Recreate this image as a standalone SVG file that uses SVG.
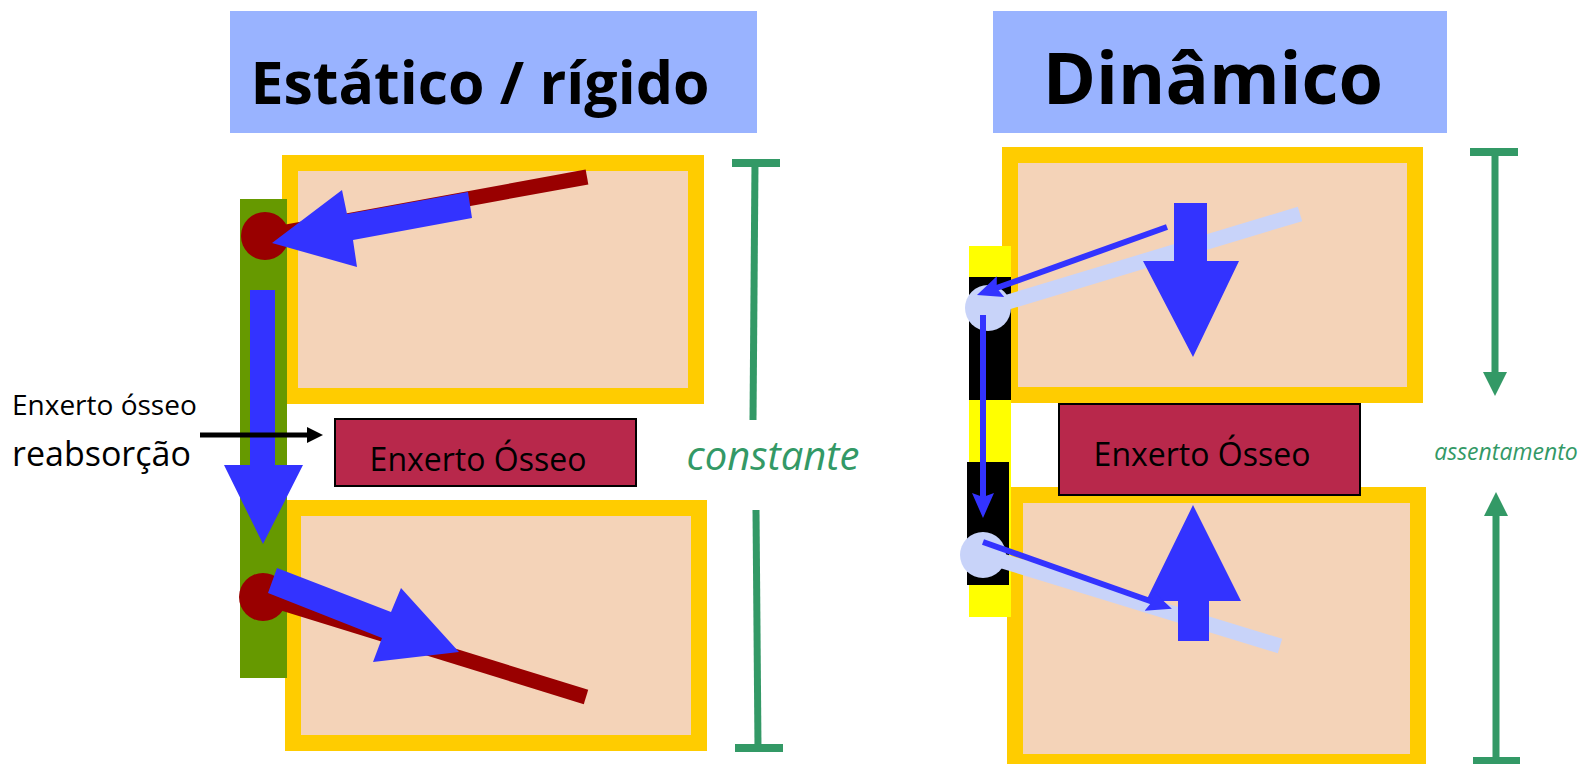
<svg xmlns="http://www.w3.org/2000/svg" width="1585" height="764" viewBox="0 0 1585 764">
  <defs>
    <style>
      .hdr { fill: #99b3ff; }
      .title { font-family: "Open Sans", "Noto Sans", sans-serif; font-weight: 700; fill: #000; text-anchor: middle; }
      .bone { fill: #f4d3b8; stroke: #ffcc00; stroke-width: 16; }
      .graft { fill: #b8284b; stroke: #000; stroke-width: 2; }
      .lbl { font-family: "Open Sans", "Noto Sans", sans-serif; fill: #000; }
      .note { font-family: "Open Sans", "Noto Sans", sans-serif; font-style: italic; fill: #339966; text-anchor: middle; }
      .blue { fill: #3333ff; }
      .screw { stroke: #990000; stroke-width: 15; fill: none; }
      .lscrew { stroke: #c8d3f9; stroke-width: 15; fill: none; }
      .thin { stroke: #3333ff; stroke-width: 6; fill: none; marker-end: url(#thinHead); }
      .gline { stroke: #339966; stroke-width: 7; fill: none; }
      .gfill { fill: #339966; }
    </style>
    <marker id="thinHead" markerUnits="userSpaceOnUse" viewBox="0 -12 26 24" refX="5" refY="0" markerWidth="26" markerHeight="24" orient="auto">
      <path d="M0,-11 L25,0 L0,11 L4,0 z" fill="#3333ff"/>
    </marker>
  </defs>

  <!-- ===== Static / rigid fixation ===== -->
  <g id="header-static">
    <rect class="hdr" x="230" y="11" width="527" height="122"/>
    <text class="title" x="480" y="104" font-size="59">Estático / rígido</text>
  </g>

  <g id="vertebra-static-top">
    <rect class="bone" x="290" y="163" width="406" height="233"/>
  </g>
  <g id="vertebra-static-bottom">
    <rect class="bone" x="293" y="508" width="406" height="235"/>
  </g>

  <g id="plate-static">
    <rect x="240" y="199" width="47" height="479" fill="#669900"/>
    <line class="screw" x1="265" y1="236" x2="587" y2="177"/>
    <circle cx="265" cy="236" r="24" fill="#990000"/>
    <line class="screw" x1="263" y1="597" x2="586" y2="697"/>
    <circle cx="263" cy="597" r="24" fill="#990000"/>
  </g>

  <g id="forces-static">
    <polygon class="blue" points="468,192 347,214 342,190 272,243 357,267 353,240 472,218"/>
    <polygon class="blue" points="250,290 275,290 275,465 303,465 263,544 224,465 250,465"/>
    <polygon class="blue" points="277,568 391,612 401,588 459,652 373,662 382,638 268,593"/>
  </g>

  <g id="graft-static">
    <rect class="graft" x="335" y="419" width="301" height="67"/>
    <text class="lbl" x="478" y="471" font-size="32" text-anchor="middle">Enxerto Ósseo</text>
  </g>

  <g id="label-resorption">
    <text class="lbl" x="12" y="415" font-size="28">Enxerto ósseo</text>
    <text class="lbl" x="12" y="466" font-size="34">reabsorção</text>
  </g>

  <g id="label-constant">
    <text class="note" x="773" y="470" font-size="40">constante</text>
  </g>

  <!-- ===== Dynamic fixation ===== -->
  <g id="header-dynamic">
    <rect class="hdr" x="993" y="11" width="454" height="122"/>
    <text class="title" x="1213" y="104" font-size="72">Dinâmico</text>
  </g>

  <g id="vertebra-dynamic-top">
    <rect class="bone" x="1010" y="155" width="405" height="240"/>
  </g>
  <g id="vertebra-dynamic-bottom">
    <rect class="bone" x="1015" y="495" width="403" height="267"/>
  </g>

  <g id="plate-dynamic">
    <rect x="969" y="246" width="42" height="371" fill="#ffff00"/>
    <rect x="969" y="277" width="42" height="123" fill="#000"/>
    <rect x="967" y="462" width="42" height="123" fill="#000"/>
    <line class="lscrew" x1="988" y1="308" x2="1300" y2="214"/>
    <circle cx="988" cy="308" r="23" fill="#c8d3f9"/>
    <line class="lscrew" x1="983" y1="555" x2="1280" y2="646"/>
    <circle cx="983" cy="555" r="23" fill="#c8d3f9"/>
  </g>

  <g id="graft-dynamic">
    <rect class="graft" x="1059" y="404" width="301" height="91"/>
    <text class="lbl" x="1202" y="466" font-size="32" text-anchor="middle">Enxerto Ósseo</text>
  </g>

  <g id="forces-dynamic">
    <polygon class="blue" points="1174,203 1207,203 1207,261 1239,261 1193,357 1143,261 1174,261"/>
    <polygon class="blue" points="1178,641 1209,641 1209,601 1241,601 1193,505 1146,601 1178,601"/>
  </g>

  <g id="label-settling">
    <text class="note" x="1506" y="460" font-size="23">assentamento</text>
  </g>

  <!-- ===== Connectors ===== -->
  <g id="connectors">
    <!-- resorption pointer -->
    <line x1="200" y1="435" x2="309" y2="435" stroke="#000" stroke-width="5"/>
    <polygon points="307,427 323,435 307,443" fill="#000"/>

    <!-- constant height bracket -->
    <rect class="gfill" x="732" y="159" width="48" height="8"/>
    <line class="gline" x1="755" y1="163" x2="753" y2="420"/>
    <line class="gline" x1="756" y1="510" x2="758" y2="748"/>
    <rect class="gfill" x="735" y="744" width="48" height="8"/>

    <!-- dynamic load path -->
    <path class="thin" d="M1167,227 L995.8,288.3"/>
    <path class="thin" d="M983,315 L983,498"/>
    <path class="thin" d="M983,542 L1153,602"/>

    <!-- settling arrows -->
    <rect class="gfill" x="1470" y="148" width="48" height="8"/>
    <line class="gline" x1="1495" y1="152" x2="1495" y2="374"/>
    <polygon class="gfill" points="1483,372 1507,372 1495,396"/>
    <polygon class="gfill" points="1484,516 1508,516 1496,492"/>
    <line class="gline" x1="1496" y1="514" x2="1496" y2="760"/>
    <rect class="gfill" x="1473" y="757" width="47" height="8"/>
  </g>
</svg>
